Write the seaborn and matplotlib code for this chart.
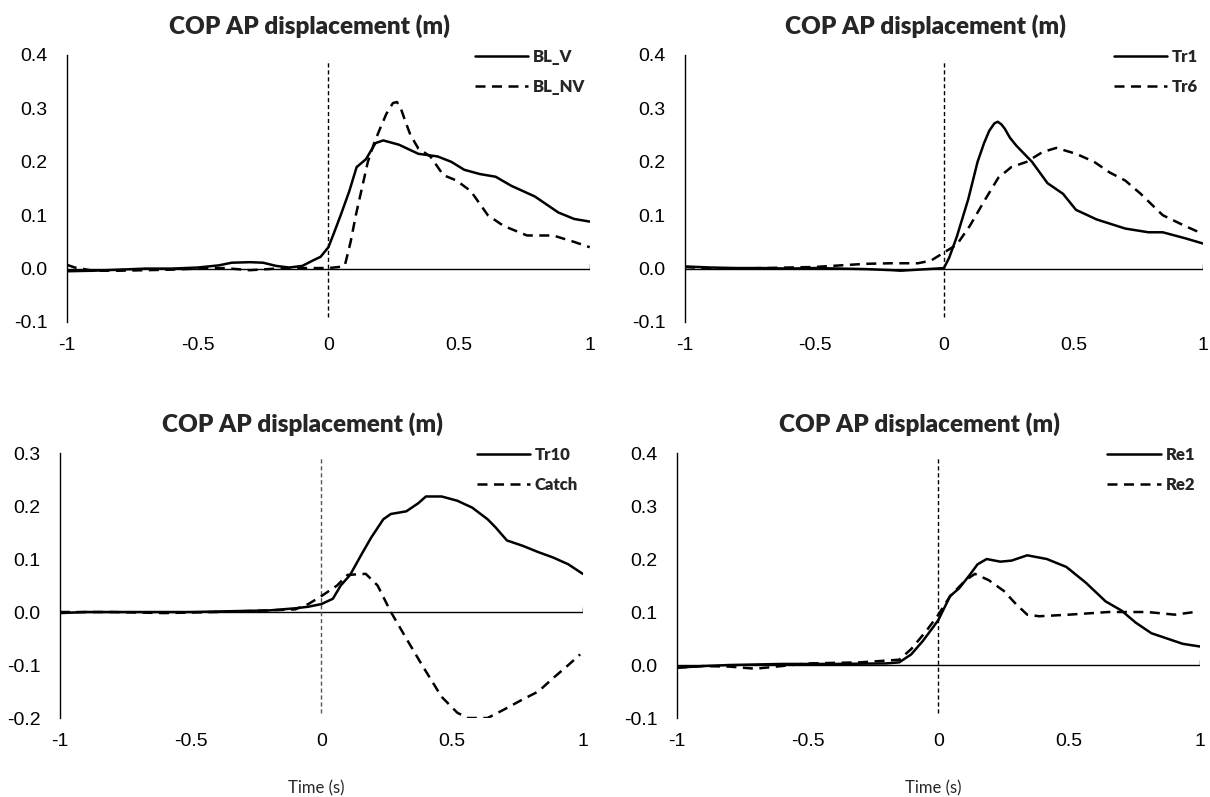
import matplotlib
matplotlib.use("Agg")
import matplotlib.pyplot as plt
import seaborn as sns
import pandas as pd

# ---------------------------------------------------------------
# Datos (tiempo en s, desplazamiento COP en m)
# ---------------------------------------------------------------

# Panel 1: BL_V / BL_NV
blv_x = [-1, -0.9, -0.8, -0.7, -0.6, -0.5, -0.42, -0.37, -0.3, -0.25, -0.2, -0.15, -0.1, -0.06, -0.03, 0,
         0.02, 0.047, 0.08, 0.108, 0.144, 0.18, 0.21, 0.27, 0.344, 0.418, 0.47, 0.52, 0.58, 0.64, 0.70,
         0.79, 0.88, 0.94, 1.0]
blv_y = [-0.005, -0.004, -0.002, 0.0, 0.0, 0.002, 0.006, 0.011, 0.012, 0.011, 0.005, 0.002, 0.005, 0.015,
         0.022, 0.04, 0.065, 0.1, 0.145, 0.19, 0.205, 0.235, 0.24, 0.232, 0.215, 0.21, 0.2, 0.185, 0.177,
         0.172, 0.155, 0.135, 0.105, 0.093, 0.088]
blnv_x = [-1, -0.97, -0.9, -0.8, -0.7, -0.6, -0.5, -0.4, -0.3, -0.2, -0.1, 0, 0.04, 0.063, 0.085, 0.105,
          0.128, 0.151, 0.175, 0.2, 0.222, 0.247, 0.262, 0.277, 0.295, 0.314, 0.344, 0.39, 0.44, 0.49,
          0.545, 0.61, 0.67, 0.76, 0.86, 0.94, 1.0]
blnv_y = [0.007, 0.002, -0.004, -0.004, -0.003, -0.002, 0.0, 0.001, -0.003, 0.0, 0.001, 0.001, 0.003,
          0.006, 0.05, 0.1, 0.15, 0.2, 0.235, 0.265, 0.29, 0.31, 0.312, 0.3, 0.275, 0.25, 0.225, 0.21,
          0.175, 0.165, 0.145, 0.1, 0.08, 0.062, 0.062, 0.05, 0.04]

# Panel 2: Tr1 / Tr6
tr1_x = [-1, -0.9, -0.8, -0.7, -0.6, -0.5, -0.4, -0.3, -0.2, -0.167, -0.1, -0.03, 0, 0.02, 0.05, 0.094,
         0.13, 0.155, 0.175, 0.195, 0.208, 0.222, 0.235, 0.255, 0.28, 0.34, 0.40, 0.46, 0.51, 0.59, 0.70,
         0.79, 0.845, 0.93, 1.0]
tr1_y = [0.004, 0.002, 0.001, 0.001, 0.0, 0.001, 0.0, -0.001, -0.003, -0.004, -0.002, 0.0, 0.001, 0.02,
         0.06, 0.13, 0.2, 0.235, 0.258, 0.272, 0.275, 0.27, 0.262, 0.245, 0.23, 0.2, 0.16, 0.14, 0.11,
         0.092, 0.075, 0.068, 0.068, 0.057, 0.047]
tr6_x = [-1, -0.9, -0.8, -0.7, -0.6, -0.5, -0.4, -0.3, -0.2, -0.1, -0.05, 0, 0.05, 0.1, 0.16, 0.21, 0.26,
         0.32, 0.38, 0.434, 0.51, 0.58, 0.64, 0.70, 0.76, 0.845, 0.93, 1.0]
tr6_y = [0.003, 0.0, 0.0, 0.001, 0.002, 0.003, 0.006, 0.009, 0.01, 0.01, 0.015, 0.03, 0.045, 0.08, 0.13,
         0.17, 0.19, 0.2, 0.218, 0.226, 0.215, 0.2, 0.18, 0.165, 0.14, 0.1, 0.08, 0.065]

# Panel 3: Tr10 / Catch
tr10_x = [-1, -0.9, -0.8, -0.7, -0.6, -0.5, -0.4, -0.3, -0.2, -0.15, -0.1, -0.05, 0, 0.044, 0.074, 0.11,
          0.155, 0.19, 0.237, 0.266, 0.325, 0.37, 0.40, 0.46, 0.52, 0.577, 0.636, 0.666, 0.71, 0.77, 0.83,
          0.886, 0.945, 1.0]
tr10_y = [-0.002, 0.0, 0.0, 0.0, 0.0, 0.0, 0.001, 0.002, 0.003, 0.005, 0.007, 0.01, 0.015, 0.025, 0.05,
          0.07, 0.11, 0.14, 0.175, 0.185, 0.19, 0.205, 0.218, 0.218, 0.21, 0.197, 0.175, 0.16, 0.135,
          0.125, 0.113, 0.103, 0.09, 0.072]
catch_x = [-1, -0.8, -0.6, -0.4, -0.2, -0.1, -0.05, 0, 0.06, 0.10, 0.17, 0.215, 0.266, 0.325, 0.385,
           0.46, 0.52, 0.56, 0.636, 0.695, 0.77, 0.83, 0.886, 0.945, 0.99]
catch_y = [0.0, 0.0, -0.002, 0.0, 0.003, 0.005, 0.015, 0.03, 0.05, 0.07, 0.072, 0.05, 0.0, -0.05, -0.1,
           -0.16, -0.19, -0.2, -0.2, -0.185, -0.165, -0.15, -0.125, -0.1, -0.08]

# Panel 4: Re1 / Re2
re1_x = [-1, -0.9, -0.8, -0.6, -0.4, -0.2, -0.15, -0.104, -0.06, -0.022, 0, 0.045, 0.08, 0.12, 0.15,
         0.185, 0.237, 0.28, 0.34, 0.415, 0.49, 0.565, 0.64, 0.70, 0.755, 0.815, 0.875, 0.935, 1.0]
re1_y = [-0.005, -0.002, 0.0, 0.002, 0.002, 0.003, 0.005, 0.02, 0.045, 0.07, 0.085, 0.13, 0.145, 0.17,
         0.19, 0.2, 0.195, 0.197, 0.207, 0.2, 0.185, 0.155, 0.12, 0.103, 0.08, 0.06, 0.05, 0.04, 0.035]
re2_x = [-1, -0.9, -0.8, -0.7, -0.6, -0.5, -0.3, -0.15, -0.104, -0.045, 0, 0.045, 0.104, 0.14, 0.193,
         0.25, 0.297, 0.34, 0.386, 0.5, 0.65, 0.8, 0.905, 0.98]
re2_y = [-0.005, -0.002, -0.003, -0.007, -0.002, 0.003, 0.005, 0.01, 0.03, 0.065, 0.095, 0.13, 0.16,
         0.172, 0.16, 0.14, 0.115, 0.095, 0.092, 0.095, 0.1, 0.1, 0.095, 0.1]

panel_labels = [("BL_V", "BL_NV"), ("Tr1", "Tr6"), ("Tr10", "Catch"), ("Re1", "Re2")]
panel_data = [((blv_x, blv_y), (blnv_x, blnv_y)),
              ((tr1_x, tr1_y), (tr6_x, tr6_y)),
              ((tr10_x, tr10_y), (catch_x, catch_y)),
              ((re1_x, re1_y), (re2_x, re2_y))]
panel_ylim = [(-0.1, 0.4), (-0.1, 0.4), (-0.2, 0.3), (-0.1, 0.4)]
x_ticks = [-1, -0.5, 0, 0.5, 1]
x_ticklabels = ["-1", "-0.5", "0", "0.5", "1"]
title = "COP AP displacement (m)"
xlabel = "Time (s)"

# ---------------------------------------------------------------
# Estilo
# ---------------------------------------------------------------
sns.set_style("white")
plt.rcParams["font.family"] = ["Liberation Sans", "DejaVu Sans"]
plt.rcParams["axes.unicode_minus"] = False

fig = plt.figure(figsize=(12.10, 7.97), dpi=100)

# posiciones de los paneles (izq, abajo, ancho, alto) en fraccion de figura
positions = [(0.0554, 0.596, 0.432, 0.335),
             (0.5661, 0.596, 0.428, 0.335),
             (0.0496, 0.0991, 0.432, 0.3325),
             (0.5595, 0.0991, 0.432, 0.3325)]

for i in range(4):
    ax = fig.add_axes(positions[i])
    (x1, y1), (x2, y2) = panel_data[i]
    lab1, lab2 = panel_labels[i]

    df1 = pd.DataFrame({"t": x1, "cop": y1})
    df2 = pd.DataFrame({"t": x2, "cop": y2})
    sns.lineplot(data=df1, x="t", y="cop", ax=ax, color="black", linewidth=1.8, label=lab1)
    sns.lineplot(data=df2, x="t", y="cop", ax=ax, color="black", linewidth=1.8, label=lab2)
    ax.lines[-1].set_dashes((4, 2.6))

    ax.set_xlim(-1, 1)
    ax.set_ylim(*panel_ylim[i])

    # eje horizontal en y = 0 y linea vertical discontinua en t = 0
    ax.axhline(0, color="black", linewidth=1.0, zorder=1)
    ax.vlines(x_ticks[-1], 0, 0.009, color="black", linewidth=1.0)
    vcol = "#555555" if i == 2 else "black"
    ax.axvline(0, ymin=0.02, ymax=0.98, color=vcol, linewidth=1.0, dashes=(3, 2), zorder=1)

    for s in ["top", "right", "bottom"]:
        ax.spines[s].set_visible(False)
    ax.spines["left"].set_color("black")
    ax.spines["left"].set_linewidth(1.0)

    lo, hi = panel_ylim[i]
    yt = [round(lo + 0.1 * k, 1) for k in range(int(round((hi - lo) / 0.1)) + 1)]
    ax.set_yticks(yt)
    ax.set_yticklabels([f"{v:.1f}" for v in yt])
    ax.set_xticks(x_ticks)
    ax.set_xticklabels(x_ticklabels)
    ax.tick_params(axis="y", direction="in", length=5, width=1, pad=14, labelsize=14, colors="black")
    ax.tick_params(axis="x", length=0, pad=11, labelsize=14, colors="black")

    ax.set_title(title, x=0.464, pad=15, fontsize=17.5, fontweight="heavy", family=["Lato", "DejaVu Sans"])
    ax.set_ylabel("")
    if i >= 2:
        ax.set_xlabel(xlabel, fontsize=12, family=["Lato", "DejaVu Sans"])
        ax.xaxis.set_label_coords(0.49, -0.235)
    else:
        ax.set_xlabel("")

    leg = ax.legend(loc="upper right", bbox_to_anchor=(1.02, 1.08), frameon=False,
                    handlelength=3.2, handletextpad=0.3, labelspacing=0.85,
                    prop={"family": "Lato", "weight": "heavy", "size": 12})
    for h in leg.get_lines():
        h.set_linewidth(1.8)

fig.savefig("out.png", dpi=100)
